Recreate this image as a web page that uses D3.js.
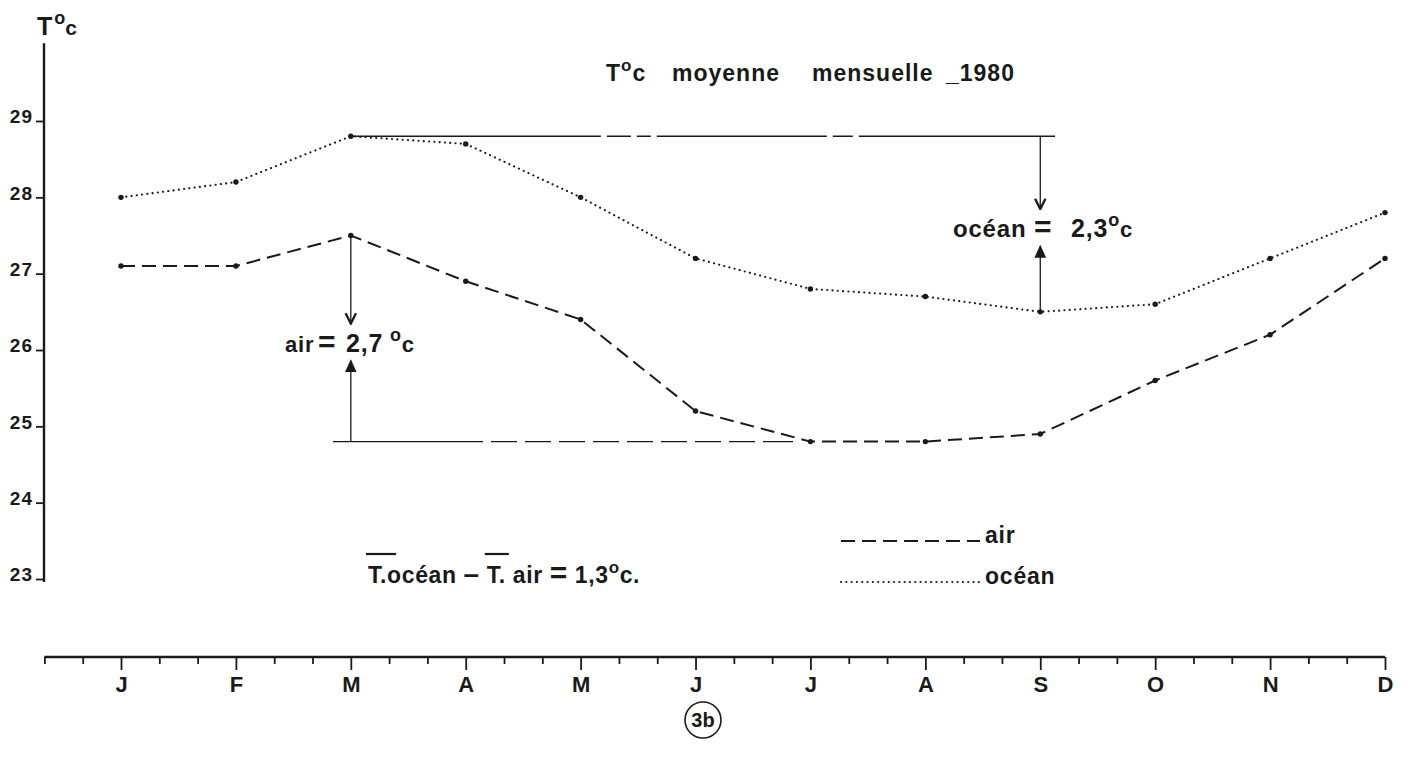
<!DOCTYPE html>
<html>
<head>
<meta charset="utf-8">
<script src="https://cdn.jsdelivr.net/npm/d3@7"></script>
<style>
  body { margin: 0; background: #fff; }
  svg { display: block; font-family: "Liberation Sans", Arial, sans-serif; font-weight: bold; }
  text { fill: #1a1a1a; white-space: pre; }
</style>
</head>
<body>
<svg id="chart" width="1414" height="764"></svg>
<script>
// data
var months = ["J", "F", "M", "A", "M", "J", "J", "A", "S", "O", "N", "D"];
var ocean = [28.0, 28.2, 28.8, 28.7, 28.0, 27.2, 26.8, 26.7, 26.5, 26.6, 27.2, 27.8];
var air = [27.1, 27.1, 27.5, 26.9, 26.4, 25.2, 24.8, 24.8, 24.9, 25.6, 26.2, 27.2];
var yTicks = [23, 24, 25, 26, 27, 28, 29];

var svg = d3.select("#chart"),
    ink = "#1a1a1a",
    font = "Liberation Sans, Arial, sans-serif";

var x = d3.scaleLinear().domain([0, 11]).range([121, 1385]);
var y = d3.scaleLinear().domain([23, 29]).range([579, 121]);

// y axis
svg.append("line")
  .attr("x1", 44).attr("x2", 44)
  .attr("y1", y(30.02)).attr("y2", y(22.96))
  .attr("stroke", ink).attr("stroke-width", 2.4);

var yAxis = svg.append("g")
  .attr("transform", "translate(44,0)")
  .call(d3.axisLeft(y).tickValues(yTicks).tickSize(8).tickPadding(3).tickFormat(d3.format("d")));
yAxis.select(".domain").remove();
yAxis.selectAll(".tick line").attr("stroke", ink).attr("stroke-width", 1.8);
yAxis.selectAll(".tick text")
  .attr("dy", "0.1em")
  .style("font-size", "19px").style("font-weight", "bold")
  .style("letter-spacing", "1px")
  .style("font-family", font)
  .attr("fill", ink);

// y axis title  T°c
var yt = svg.append("text").attr("x", 37).attr("y", 35).style("font-size", "25px");
yt.append("tspan").text("T");
yt.append("tspan").attr("dx", 2).attr("dy", -11).style("font-size", "18px").text("o");
yt.append("tspan").attr("dy", 11).style("font-size", "21px").text("c");

// x axis (separate, lower)
var xAxisY = 657;
var minor = [];
for (var i = -2; i <= 33; i++) { if (i % 3 !== 0) minor.push(i / 3); }

svg.append("line")
  .attr("x1", x(-2 / 3)).attr("x2", x(11))
  .attr("y1", xAxisY).attr("y2", xAxisY)
  .attr("stroke", ink).attr("stroke-width", 2.4);

var xMinor = svg.append("g")
  .attr("transform", "translate(0," + xAxisY + ")")
  .call(d3.axisBottom(x).tickValues(minor).tickSize(7).tickFormat(""));
xMinor.select(".domain").remove();
xMinor.selectAll(".tick line").attr("stroke", ink).attr("stroke-width", 1.8);

var xMajor = svg.append("g")
  .attr("transform", "translate(0," + xAxisY + ")")
  .call(d3.axisBottom(x).tickValues(d3.range(12)).tickSize(13).tickPadding(6)
    .tickFormat(function(d) { return months[d]; }));
xMajor.select(".domain").remove();
xMajor.selectAll(".tick line").attr("stroke", ink).attr("stroke-width", 1.8);
xMajor.selectAll(".tick text")
  .style("font-size", "22px").style("font-weight", "bold")
  .style("font-family", font)
  .attr("fill", ink);

// reference lines for the ranges
var oceanMax = d3.max(ocean), oceanMin = d3.min(ocean);
var airMax = d3.max(air), airMin = d3.min(air);

svg.append("line")
  .attr("x1", x(2)).attr("x2", 1055)
  .attr("y1", y(oceanMax)).attr("y2", y(oceanMax))
  .attr("stroke", ink).attr("stroke-width", 1.3)
  .attr("stroke-dasharray", "250 6 24 6 14 6 170 6 20 6 220");

svg.append("line")
  .attr("x1", 333).attr("x2", x(6))
  .attr("y1", y(airMin)).attr("y2", y(airMin))
  .attr("stroke", ink).attr("stroke-width", 1.3)
  .attr("stroke-dasharray", "150 8 26 8 26 8 26 8 26 8 26 8 26 8 26 8 26 8 30");

// arrow markers
var defs = svg.append("defs");
defs.append("marker").attr("id", "open").attr("viewBox", "0 0 10 10")
  .attr("refX", 9).attr("refY", 5).attr("markerWidth", 13).attr("markerHeight", 13)
  .attr("markerUnits", "userSpaceOnUse").attr("orient", "auto")
  .append("path").attr("d", "M1,1 L9,5 L1,9").attr("fill", "none")
  .attr("stroke", ink).attr("stroke-width", 1.8);
defs.append("marker").attr("id", "solid").attr("viewBox", "0 0 10 10")
  .attr("refX", 9).attr("refY", 5).attr("markerWidth", 13).attr("markerHeight", 13)
  .attr("markerUnits", "userSpaceOnUse").attr("orient", "auto")
  .append("path").attr("d", "M0,0.5 L10,5 L0,9.5 Z").attr("fill", ink);

function rangeNote(xi, hi, lo, parts) {
  var mid = y((hi + lo) / 2), cx = x(xi);
  svg.append("line").attr("x1", cx).attr("x2", cx)
    .attr("y1", y(hi)).attr("y2", mid - 15)
    .attr("stroke", ink).attr("stroke-width", 1.3).attr("marker-end", "url(#open)");
  svg.append("line").attr("x1", cx).attr("x2", cx)
    .attr("y1", y(lo)).attr("y2", mid + 22)
    .attr("stroke", ink).attr("stroke-width", 1.3).attr("marker-end", "url(#solid)");
  var t = svg.append("text").attr("y", mid + 13).style("letter-spacing", "0.8px");
  parts.forEach(function(p) {
    var s = t.append("tspan").text(p.t).style("font-size", p.fs + "px");
    if (p.x != null) s.attr("x", p.x);
    if (p.dy) s.attr("dy", p.dy);
  });
}

rangeNote(8, oceanMax, oceanMin, [
  { t: "océan", x: 953, fs: 24 },
  { t: "=", x: 1034, fs: 30 },
  { t: "2,3", x: 1071, fs: 25 },
  { t: "o", fs: 18, dy: -11 },
  { t: "c", fs: 22, dy: 11 }
]);

rangeNote(2, airMax, airMin, [
  { t: "air", x: 285, fs: 22 },
  { t: "=", x: 318, fs: 30 },
  { t: "2,7", x: 346, fs: 25 },
  { t: "o", x: 390, fs: 18, dy: -11 },
  { t: "c", fs: 22, dy: 11 }
]);

// series
var line = d3.line()
  .x(function(d, i) { return x(i); })
  .y(function(d) { return y(d); });

svg.append("path").datum(ocean)
  .attr("d", line).attr("fill", "none")
  .attr("stroke", ink).attr("stroke-width", 2.1)
  .attr("stroke-linecap", "round").attr("stroke-dasharray", "0.1 5.2");

svg.append("path").datum(air)
  .attr("d", line).attr("fill", "none")
  .attr("stroke", ink).attr("stroke-width", 2)
  .attr("stroke-dasharray", "14 7");

[ocean, air].forEach(function(series) {
  svg.append("g").selectAll("circle")
    .data(series)
    .enter().append("circle")
    .attr("cx", function(d, i) { return x(i); })
    .attr("cy", function(d) { return y(d); })
    .attr("r", 2.7).attr("fill", ink);
});

// title
var title = svg.append("text").attr("y", 81)
  .style("font-size", "23px").style("letter-spacing", "1px");
title.append("tspan").attr("x", 606).text("T");
title.append("tspan").attr("dy", -10).style("font-size", "17px").text("o");
title.append("tspan").attr("dy", 10).text("c");
title.append("tspan").attr("x", 672).text("moyenne");
title.append("tspan").attr("x", 812).text("mensuelle");
title.append("tspan").attr("x", 946).text("_1980");

// mean difference
var diff = svg.append("text").attr("x", 368).attr("y", 583)
  .style("font-size", "23px").style("letter-spacing", "0.6px");
diff.append("tspan").text("T.océan ");
diff.append("tspan").style("font-size", "28px").text("–");
diff.append("tspan").text(" T. air ");
diff.append("tspan").style("font-size", "30px").text("=");
diff.append("tspan").text(" 1,3");
diff.append("tspan").attr("dy", -10).style("font-size", "17px").text("o");
diff.append("tspan").attr("dy", 10).text("c.");

// bars over the T's (mean values)
var str = diff.text(), node = diff.node();
[0, str.indexOf("T", 1)].forEach(function(k) {
  var b = node.getExtentOfChar(k);
  svg.append("line")
    .attr("x1", b.x - 2).attr("x2", b.x + b.width + (k === 0 ? 16 : 10))
    .attr("y1", 554).attr("y2", 554)
    .attr("stroke", ink).attr("stroke-width", 2.2);
});

// legend
var legend = [
  { name: "air", dash: "14 7", w: 2, cap: "butt", yy: 541 },
  { name: "océan", dash: "0.1 5.2", w: 2.1, cap: "round", yy: 582 }
];
legend.forEach(function(l) {
  svg.append("line").attr("x1", 841).attr("x2", 980)
    .attr("y1", l.yy).attr("y2", l.yy)
    .attr("stroke", ink).attr("stroke-width", l.w)
    .attr("stroke-linecap", l.cap).attr("stroke-dasharray", l.dash);
  svg.append("text").attr("x", 985).attr("y", l.yy + 2)
    .style("font-size", "23px").style("letter-spacing", "0.8px").text(l.name);
});

// figure number
svg.append("circle").attr("cx", 703).attr("cy", 720).attr("r", 18)
  .attr("fill", "none").attr("stroke", ink).attr("stroke-width", 1.6);
svg.append("text").attr("x", 703).attr("y", 727)
  .attr("text-anchor", "middle").style("font-size", "20px").text("3b");
</script>
</body>
</html>
